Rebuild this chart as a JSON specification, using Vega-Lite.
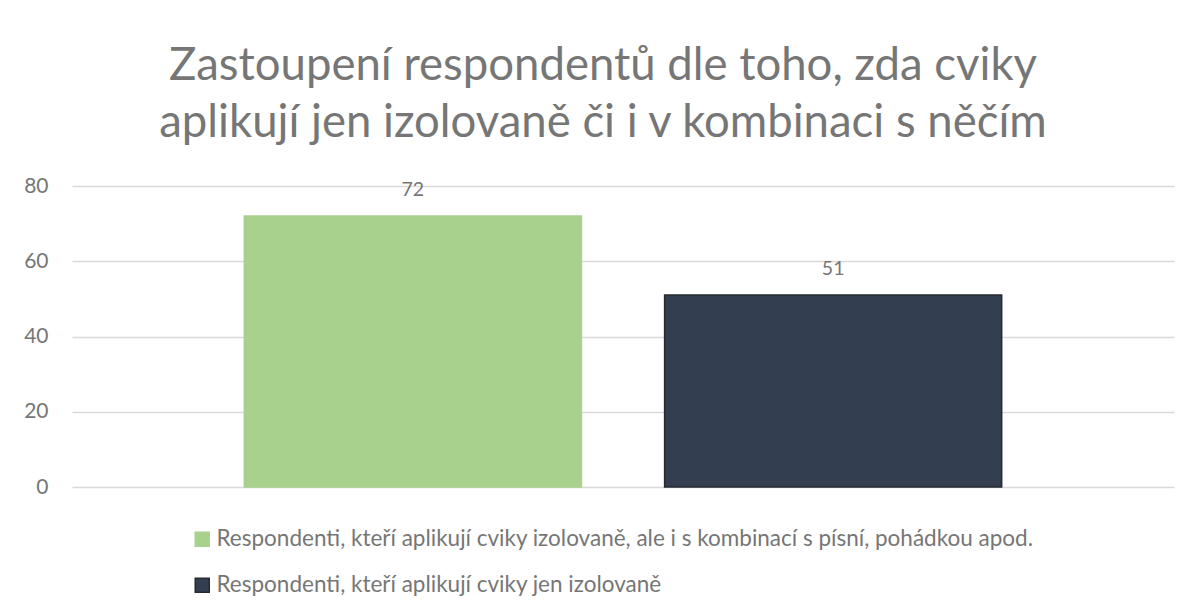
{
  "$schema": "https://vega.github.io/schema/vega-lite/v6.json",
  "autosize": {"type": "none"},
  "padding": {"left": 72, "top": 186, "right": 18, "bottom": 123},
  "width": 1102,
  "height": 301,
  "background": "white",
  "config": {"view": {"stroke": null}},
  "title": {
    "text": ["Zastoupení respondentů dle toho, zda cviky", "aplikují jen izolovaně či i v kombinaci s něčím"],
    "anchor": "middle",
    "dx": -20,
    "offset": 29,
    "font": "Lato",
    "fontSize": 45.5,
    "fontWeight": "normal",
    "color": "#767676",
    "lineHeight": 57
  },
  "data": {
    "values": [
      {"serie": "Respondenti, kteří aplikují cviky izolovaně, ale i s kombinací s písní, pohádkou apod.", "pocet": 72},
      {"serie": "Respondenti, kteří aplikují cviky jen izolovaně", "pocet": 51}
    ]
  },
  "layer": [
    {
      "mark": {"type": "bar", "strokeWidth": 1.5},
      "encoding": {
        "x": {
          "field": "serie", "type": "nominal", "sort": null,
          "scale": {"paddingInner": 0.198, "paddingOuter": 0.41},
          "axis": null
        },
        "y": {
          "field": "pocet", "type": "quantitative",
          "scale": {"domain": [0, 80]},
          "axis": {
            "values": [0, 20, 40, 60, 80],
            "title": null,
            "domain": false,
            "ticks": false,
            "labelPadding": 24,
            "labelFont": "Lato",
            "labelFontSize": 21,
            "labelColor": "#767676",
            "gridColor": "#d9d9d9",
            "gridWidth": 1.5
          }
        },
        "color": {
          "field": "serie", "type": "nominal", "sort": null,
          "scale": {"range": ["#a9d18e", "#333f50"]},
          "legend": {
            "title": null,
            "orient": "none",
            "legendX": 119,
            "legendY": 342,
            "padding": 0,
            "direction": "vertical",
            "symbolType": "square",
            "symbolSize": 196,
            "symbolStrokeWidth": 1.5,
            "labelFont": "Lato",
            "labelFontSize": 22.5,
            "labelColor": "#767676",
            "labelLimit": 1100,
            "labelOffset": 3,
            "rowPadding": 23
          }
        },
        "stroke": {
          "field": "serie", "type": "nominal", "sort": null,
          "scale": {"range": ["#a9d18e", "#262a30"]},
          "legend": null
        }
      }
    },
    {
      "mark": {"type": "text", "baseline": "alphabetic", "dy": -20, "font": "Lato", "fontSize": 19.5, "color": "#767676"},
      "encoding": {
        "x": {"field": "serie", "type": "nominal", "sort": null},
        "y": {"field": "pocet", "type": "quantitative"},
        "text": {"field": "pocet", "type": "quantitative"}
      }
    }
  ]
}
